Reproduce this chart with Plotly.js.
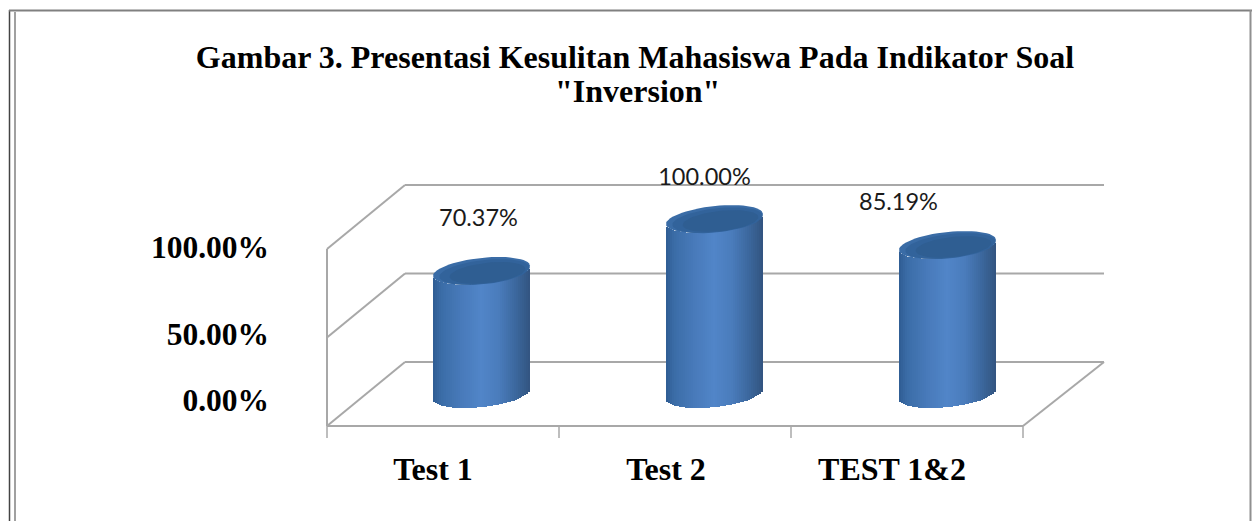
<!DOCTYPE html>
<html>
<head>
<meta charset="utf-8">
<script src="https://cdn.plot.ly/plotly-3.0.1.min.js"></script>
<style>html,body{margin:0;padding:0;background:#fff;overflow:hidden}</style>
</head>
<body>
<div id="chart" style="width:1252px;height:521px"></div>
<script>
// ---- data ----
const categories = ["Test 1", "Test 2", "TEST 1&2"];
const values = [70.37, 100.0, 85.19];
const yTickText = ["0.00%", "50.00%", "100.00%"];
const gridValues = [0, 50, 100];
const titleLine1 = 'Gambar 3. Presentasi Kesulitan Mahasiswa Pada Indikator Soal';
const titleLine2 = '"Inversion"';

// ---- page geometry (pixels) ----
const W = 1252, H = 521;
const plot = {l: 320, r: 1110, t: 150, b: 442};
const pxPerCat = 233, firstCenterPx = 481.5;
const pxPerUnit = 1.75, basePx = 394;
const toX = px => (px - firstCenterPx) / pxPerCat;
const toY = px => (basePx - px) / pxPerUnit;
const paperX = px => (px - plot.l) / (plot.r - plot.l);
const paperY = px => (plot.b - px) / (plot.b - plot.t);

// ---- cylinder geometry ----
const halfW = 48.5, rimB = 13, rimShear = 5;
const stripPx = 2, nStrips = Math.round(2 * halfW / stripPx);
const stops = [[0,[46,92,146]],[0.08,[58,108,166]],[0.3,[72,122,186]],[0.5,[81,133,200]],
               [0.68,[74,124,188]],[0.85,[60,104,158]],[1,[50,84,128]]];
function shade(t){
  for (let i = 1; i < stops.length; i++) if (t <= stops[i][0]) {
    const a = stops[i-1], b = stops[i], f = (t-a[0])/(b[0]-a[0]);
    return 'rgb(' + a[1].map((c,k)=>Math.round(c+(b[1][k]-c)*f)).join(',') + ')';
  }
  return 'rgb(50,84,128)';
}
const traces = [];
const centers = categories.map((c,i)=>i);
for (let s = 0; s < nStrips; s++) {
  const dx = -halfW + (s + 0.5) * (2 * halfW / nStrips);
  const u = dx / halfW;
  const dropPx = -rimShear * u + rimB * Math.sqrt(Math.max(0, 1 - u * u));
  traces.push({
    type: 'bar', x: centers, y: values,
    base: centers.map(() => -dropPx / pxPerUnit),
    width: centers.map(() => (2 * halfW / nStrips + 0.8) / pxPerCat),
    offset: centers.map(() => (dx - halfW / nStrips - 0.4) / pxPerCat),
    marker: {color: shade((s + 0.5) / nStrips), line: {width: 0}},
    hoverinfo: 'skip', showlegend: false
  });
}
// top rims
function rim(center, value, scale, dxPx, dyPx, color){
  const xs = [], ys = [];
  for (let d = 0; d <= 360; d += 6) {
    const t = d * Math.PI / 180;
    xs.push(center + (dxPx + scale * halfW * Math.cos(t)) / pxPerCat);
    ys.push(value - (dyPx - scale * rimShear * Math.cos(t) - scale * rimB * Math.sin(t)) / pxPerUnit);
  }
  return {type: 'scatter', mode: 'lines', x: xs, y: ys, fill: 'toself', fillcolor: color,
          line: {width: 0, color: color}, hoverinfo: 'skip', showlegend: false};
}
values.forEach((v, i) => {
  traces.push(rim(i, v, 1, 0, 0, '#3a6ca6'));
  traces.push(rim(i, v, 0.93, 3, 1.2, '#32639b'));
  traces.push(rim(i, v, 0.78, 6, 2, '#2f5e92'));
});
// value labels
const labelDxPx = [-3, -10, -49], labelUpPx = [51, 40, 41];
traces.push({
  type: 'scatter', mode: 'text', cliponaxis: false,
  x: centers.map(i => i + labelDxPx[i] / pxPerCat),
  y: values.map((v, i) => v + labelUpPx[i] / pxPerUnit),
  text: values.map(v => v.toFixed(2) + '%'),
  textposition: 'middle center',
  textfont: {family: 'Lato, sans-serif', size: 23.5, color: '#1a1a1a'},
  hoverinfo: 'skip', showlegend: false
});

// ---- walls, floor, gridlines ----
const gridCol = '#a8a8a8';
const ln = (x0, y0, x1, y1, w) => ({type: 'line', layer: 'below', xref: 'x', yref: 'y',
  x0: toX(x0), y0: toY(y0), x1: toX(x1), y1: toY(y1), line: {color: gridCol, width: w || 2}});
const frontPx = v => 426 - 1.77 * v, backPx = v => 362 - 1.77 * v;
const shapes = [];
gridValues.forEach(v => {
  shapes.push(ln(327, frontPx(v), 405, backPx(v)));
  shapes.push(ln(405, backPx(v), 1104, backPx(v)));
});
shapes.push(ln(327, frontPx(0), 327, frontPx(100)));
shapes.push(ln(327, frontPx(0), 1023, frontPx(0)));
shapes.push(ln(1023, frontPx(0), 1104, backPx(0)));
[327, 559, 791, 1023].forEach(px => shapes.push(ln(px, 426, px, 438, 1.5)));
// page frame
const pg = (x0, y0, x1, y1, c, w) => ({type: 'line', xref: 'paper', yref: 'paper',
  x0: paperX(x0), y0: paperY(y0), x1: paperX(x1), y1: paperY(y1), line: {color: c, width: w}});
shapes.push(pg(9.5, 10, 9.5, 521, '#444444', 1.5));
shapes.push(pg(15, 12, 15, 521, '#a0a0a0', 2));
shapes.push(pg(9, 10.5, 1252, 10.5, '#808080', 2));
shapes.push(pg(1250.5, 10, 1250.5, 521, '#909090', 2));

// tick-label anchors as placed in the picture
const xLabelPx = [433, 666, 892];
const yLabelPx = [400, 334, 247];
const serifBold = size => ({family: 'Liberation Serif, serif', size: size, color: '#000', weight: 700});

const layout = {
  width: W, height: H, paper_bgcolor: '#fff', plot_bgcolor: 'rgba(0,0,0,0)',
  margin: {l: plot.l, r: W - plot.r, t: plot.t, b: H - plot.b, pad: 0},
  barmode: 'overlay', bargap: 0, showlegend: false,
  title: {text: titleLine1, x: 635 / W, xanchor: 'center', y: 1 - 57 / H, yanchor: 'middle',
          font: serifBold(32)},
  annotations: [{text: titleLine2, xref: 'paper', yref: 'paper', x: paperX(637), y: paperY(91),
                 xanchor: 'center', yanchor: 'middle', showarrow: false, font: serifBold(32)}],
  font: {family: 'Liberation Serif, serif', color: '#000'},
  xaxis: {range: [toX(plot.l), toX(plot.r)], showgrid: false, zeroline: false, showline: false,
          tickmode: 'array', tickvals: xLabelPx.map(toX), ticktext: categories, ticks: '',
          ticklabelstandoff: 5, tickangle: 0, tickfont: serifBold(32)},
  yaxis: {range: [toY(plot.b), toY(plot.t)], showgrid: false, zeroline: false, showline: false,
          tickmode: 'array', tickvals: yLabelPx.map(toY), ticktext: yTickText, ticks: '',
          ticklabelstandoff: 50, tickfont: serifBold(31.5)},
  shapes: shapes
};
Plotly.newPlot('chart', traces, layout, {displayModeBar: false, staticPlot: true});
</script>
</body>
</html>
